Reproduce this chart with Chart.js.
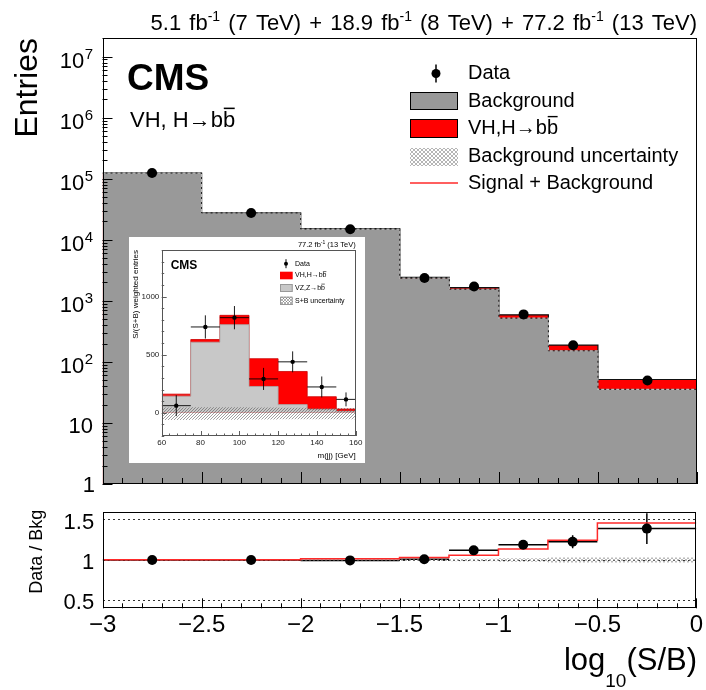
<!DOCTYPE html>
<html>
<head>
<meta charset="utf-8">
<title>VH, H→bb — log10(S/B)</title>
<script src="https://cdn.jsdelivr.net/npm/chart.js@4.4.1/dist/chart.umd.min.js"></script>
<style>
  html, body { margin: 0; padding: 0; background: #fff; }
  #page { position: relative; width: 706px; height: 690px; overflow: hidden; }
  #page canvas { position: absolute; }
  #mainChart { left: 0; top: 0; }
  #ratioChart { left: 0; top: 490px; }
  #insetChart { left: 129px; top: 237px; background: #fff; }
</style>
</head>
<body>
<div id="page">
  <canvas id="mainChart" width="706" height="498"></canvas>
  <canvas id="ratioChart" width="706" height="200"></canvas>
  <canvas id="insetChart" width="236" height="226"></canvas>
</div>
<script>
// CMS VH(bb) combination: events binned in log10(S/B), ratio below, m(jj) inset

const FONT = "'Liberation Sans', Arial, Helvetica, sans-serif";

// main panel: log10(S/B) bins
const binEdges = [-3, -2.5, -2, -1.5, -1.25, -1, -0.75, -0.5, 0];
const binCenters = [-2.75, -2.25, -1.75, -1.375, -1.125, -0.875, -0.625, -0.25];
const bkgEntries = [124000, 27500, 15000, 2350, 1550, 520, 152, 35.5];
const sigEntries = [250, 110, 220, 70, 95, 70, 37, 16];
const dataEntries = [124000, 27500, 14900, 2370, 1720, 600, 187, 49.5];
const logDecades = [0, 1, 2, 3, 4, 5, 6, 7];
const xTicks = [-3, -2.5, -2, -1.5, -1, -0.5, 0];

// ratio panel
const ratioData = [1.0, 1.0, 0.995, 1.01, 1.12, 1.19, 1.227, 1.39];
const ratioErr = [0.004, 0.007, 0.009, 0.02, 0.026, 0.045, 0.08, 0.19];
const ratioSplusB = [1.002, 1.004, 1.015, 1.03, 1.06, 1.136, 1.245, 1.46];
const ratioBkgUnc = [0.006, 0.006, 0.008, 0.012, 0.016, 0.022, 0.03, 0.032];
const ratioTicks = [0.5, 1, 1.5];

// inset: S/(S+B) weighted m(jj)
const mjjEdges = [60, 75, 90, 105, 120, 135, 150, 160];
const mjjCenters = [67.5, 82.5, 97.5, 112.5, 127.5, 142.5, 155];
const vzWeighted = [143, 607, 758, 226, 70, 30, 12];
const vhWeighted = [17, 23, 80, 239, 285, 108, 20];
const mjjData = [61, 738, 818, 291, 438, 222, 115];
const mjjDataErr = [90, 100, 100, 95, 90, 90, 60];
const mjjUncHi = [45, 48, 48, 45, 42, 40, 40];
const mjjUncLo = [-62, -60, -60, -58, -56, -55, -55];
const mjjTicksX = [60, 80, 100, 120, 140, 160];
const mjjTicksY = [0, 500, 1000];

const legendLabels = ['Data', 'Background', 'VH,H\u2192bb', 'Background uncertainty', 'Signal + Background'];
const insetLegendLabels = ['Data', 'VH,H\u2192bb', 'VZ,Z\u2192bb', 'S+B uncertainty'];

const colors = {
    bkg: '#999999',
    sig: '#ff0000',
    vz: '#c8c8c8',
    sbLine: '#ff2a2a'
};

function fnt(size, bold) {
    return (bold ? 'bold ' : '') + size + 'px ' + FONT;
}

// histogram as step points: one point per left edge plus the closing edge
function steps(edges, vals) {
    const pts = vals.map((v, i) => ({ x: edges[i], y: v }));
    pts.push({ x: edges[edges.length - 1], y: vals[vals.length - 1] });
    return pts;
}

function makeHatch(canvas, color, cross, step) {
    const t = document.createElement('canvas');
    t.width = step; t.height = step;
    const g = t.getContext('2d');
    g.strokeStyle = color;
    g.lineWidth = 1;
    g.beginPath();
    g.moveTo(0, step); g.lineTo(step, 0);
    if (cross) { g.moveTo(0, 0); g.lineTo(step, step); }
    g.stroke();
    return canvas.getContext('2d').createPattern(t, 'repeat');
}

// text whose last letter gets an overline (b-bar)
function barText(ctx, text, x, y, size) {
    ctx.fillText(text, x, y);
    const w = ctx.measureText(text).width;
    const wl = ctx.measureText(text.slice(-1)).width;
    const asc = ctx.measureText('b').actualBoundingBoxAscent;
    const yb = y - asc - size * 0.12;
    ctx.save();
    ctx.lineWidth = Math.max(0.6, size * 0.07);
    ctx.strokeStyle = ctx.fillStyle;
    ctx.beginPath();
    ctx.moveTo(x + w - wl + size * 0.04, yb);
    ctx.lineTo(x + w - size * 0.02, yb);
    ctx.stroke();
    ctx.restore();
}

// pieces: [text, size, dy]; drawn right-aligned at xRight, spaces widened by gap
function richText(ctx, pieces, xRight, baseY, gap) {
    gap = gap || 0;
    ctx.textAlign = 'left';
    ctx.textBaseline = 'alphabetic';
    const widthOf = p => {
        ctx.font = fnt(p[1]);
        return ctx.measureText(p[0]).width + gap * (p[0].split(' ').length - 1);
    };
    let xx = xRight - pieces.reduce((s, p) => s + widthOf(p), 0);
    pieces.forEach(p => {
        ctx.font = fnt(p[1]);
        const sp = ctx.measureText(' ').width + gap;
        p[0].split(' ').forEach((word, k) => {
            if (k > 0) xx += sp;
            ctx.fillText(word, xx, baseY + p[2]);
            xx += ctx.measureText(word).width;
        });
    });
}

Chart.defaults.font.family = FONT;
Chart.defaults.color = '#000';

// error bars read from dataset.errY / dataset.errEdges
const errorBars = {
    id: 'errorBars',
    draw(chart, under) {
        const { ctx, chartArea: a, scales: { x, y } } = chart;
        ctx.save();
        ctx.beginPath();
        ctx.rect(a.left, a.top, a.right - a.left, a.bottom - a.top);
        ctx.clip();
        chart.data.datasets.forEach(ds => {
            if (!ds.errY || !!ds.errUnder !== under) return;
            ctx.strokeStyle = '#000';
            ctx.lineWidth = ds.errWidth;
            ctx.beginPath();
            ds.data.forEach((p, i) => {
                const px = x.getPixelForValue(p.x);
                const py = y.getPixelForValue(p.y);
                ctx.moveTo(x.getPixelForValue(ds.errEdges[i]), py);
                ctx.lineTo(x.getPixelForValue(ds.errEdges[i + 1]), py);
                ctx.moveTo(px, y.getPixelForValue(p.y - ds.errY[i]));
                ctx.lineTo(px, y.getPixelForValue(p.y + ds.errY[i]));
            });
            ctx.stroke();
        });
        ctx.restore();
    },
    beforeDatasetsDraw(chart) { this.draw(chart, true); },
    afterDatasetsDraw(chart) { this.draw(chart, false); }
};

// ROOT style inward ticks along bottom of a linear x axis
function xTickMarks(ctx, x, a, from, to, minorStep, perMajor, majLen, minLen) {
    const n = Math.round((to - from) / minorStep);
    ctx.beginPath();
    for (let i = 0; i <= n; i++) {
        const px = Math.round(x.getPixelForValue(from + i * minorStep)) + 0.5;
        ctx.moveTo(px, a.bottom);
        ctx.lineTo(px, a.bottom - (i % perMajor === 0 ? majLen : minLen));
    }
    ctx.stroke();
}

function frame(ctx, a, color, width) {
    ctx.strokeStyle = color;
    ctx.lineWidth = width;
    const l = Math.round(a.left) + 0.5, t = Math.round(a.top) + 0.5;
    const r = Math.round(a.right) - 0.5, b = Math.round(a.bottom) - 0.5;
    ctx.strokeRect(l, t, r - l, b - t);
}

const mainCanvas = document.getElementById('mainChart');
const ratioCanvas = document.getElementById('ratioChart');
const insetCanvas = document.getElementById('insetChart');
const hatchLegend = makeHatch(mainCanvas, 'rgba(120,120,120,0.55)', true, 4);
const hatchRatio = makeHatch(ratioCanvas, 'rgba(140,140,140,0.6)', true, 4);
const hatchInset = makeHatch(insetCanvas, 'rgba(80,80,80,0.55)', false, 3);
const hatchInsetLeg = makeHatch(insetCanvas, 'rgba(80,80,80,0.45)', true, 3);

const mainDecor = {
    id: 'mainDecor',
    afterDraw(chart) {
        const { ctx, chartArea: a, scales: { x, y } } = chart;
        ctx.save();
        ctx.strokeStyle = '#000';
        ctx.lineWidth = 1;
        xTickMarks(ctx, x, a, -3, 0, 0.1, 5, 12, 6);
        ctx.beginPath();
        logDecades.forEach(d => {
            for (let m = 1; m <= 9; m++) {
                const v = m * Math.pow(10, d);
                if (v > y.max) break;
                const py = Math.round(y.getPixelForValue(v)) + 0.5;
                ctx.moveTo(a.left, py);
                ctx.lineTo(a.left + (m === 1 ? 10 : 5), py);
            }
        });
        ctx.stroke();
        frame(ctx, a, '#000', 1);

        // y tick labels 1, 10, 10^2 ... 10^7
        ctx.fillStyle = '#000';
        ctx.textBaseline = 'alphabetic';
        logDecades.forEach(d => {
            const py = y.getPixelForValue(Math.pow(10, d));
            ctx.font = fnt(22);
            ctx.textAlign = 'right';
            if (d === 0) { ctx.fillText('1', 95, py + 7.5); return; }
            if (d === 1) { ctx.fillText('10', 93, py + 10.5); return; }
            ctx.font = fnt(15);
            const sw = ctx.measureText(String(d)).width;
            ctx.textAlign = 'left';
            ctx.fillText(String(d), 93 - sw, py + 2);
            ctx.font = fnt(22);
            ctx.textAlign = 'right';
            ctx.fillText('10', 93 - sw - 0.5, py + 11);
        });

        // axis title
        ctx.save();
        ctx.translate(37, 38);
        ctx.rotate(-Math.PI / 2);
        ctx.font = fnt(32);
        ctx.textAlign = 'right';
        ctx.fillText('Entries', 0, 0);
        ctx.restore();

        // luminosity label
        richText(ctx, [
            ['5.1 fb', 22, 0], ['-1', 14, -9], [' (7 TeV) + 18.9 fb', 22, 0], ['-1', 14, -9],
            [' (8 TeV) + 77.2 fb', 22, 0], ['-1', 14, -9], [' (13 TeV)', 22, 0]
        ], 697, 30, 2);

        ctx.textAlign = 'left';
        ctx.font = fnt(37, true);
        ctx.fillText('CMS', 127, 90);
        ctx.font = fnt(22);
        barText(ctx, 'VH, H\u2192bb', 130, 127, 22);

        // legend
        const ly = [73.5, 101, 128.5, 156.5, 183];
        ctx.beginPath();
        ctx.arc(436, ly[0], 4.5, 0, 2 * Math.PI);
        ctx.fill();
        ctx.lineWidth = 1.5;
        ctx.beginPath();
        ctx.moveTo(436, ly[0] - 9);
        ctx.lineTo(436, ly[0] + 9);
        ctx.stroke();
        ctx.lineWidth = 1;
        ctx.fillStyle = colors.bkg;
        ctx.fillRect(410, 92, 48, 18);
        ctx.strokeRect(410.5, 92.5, 47, 17);
        ctx.fillStyle = colors.sig;
        ctx.fillRect(410, 119, 48, 19);
        ctx.strokeRect(410.5, 119.5, 47, 18);
        ctx.fillStyle = hatchLegend;
        ctx.fillRect(410, 148, 48, 18);
        ctx.strokeStyle = colors.sbLine;
        ctx.lineWidth = 1.5;
        ctx.beginPath();
        ctx.moveTo(410, ly[4]);
        ctx.lineTo(458, ly[4]);
        ctx.stroke();

        ctx.fillStyle = '#000';
        ctx.font = fnt(20);
        ctx.textBaseline = 'middle';
        legendLabels.forEach((t, i) => {
            if (i === 2) barText(ctx, t, 468, ly[i], 20);
            else ctx.fillText(t, 468, ly[i]);
        });
        ctx.restore();
    }
};

const ratioDecor = {
    id: 'ratioDecor',
    afterDraw(chart) {
        const { ctx, chartArea: a, scales: { x } } = chart;
        ctx.save();
        ctx.strokeStyle = '#000';
        ctx.lineWidth = 1;
        xTickMarks(ctx, x, a, -3, 0, 0.1, 5, 10, 5);
        frame(ctx, a, '#000', 1);

        ctx.fillStyle = '#000';
        richText(ctx, [['log', 31, 0], ['10', 19, 16.5], ['(S/B)', 31, 0]], 697, 180);

        ctx.translate(42, 61.7);
        ctx.rotate(-Math.PI / 2);
        ctx.font = fnt(18);
        ctx.textAlign = 'center';
        ctx.textBaseline = 'alphabetic';
        ctx.fillText('Data / Bkg', 0, 0);
        ctx.restore();
    }
};

const insetDecor = {
    id: 'insetDecor',
    afterDraw(chart) {
        const { ctx, chartArea: a, scales: { x, y } } = chart;
        ctx.save();
        ctx.strokeStyle = '#333';
        ctx.lineWidth = 0.8;
        xTickMarks(ctx, x, a, 60, 160, 4, 5, 5, 2.5);
        ctx.beginPath();
        for (let v = -200; v <= 1400; v += 100) {
            const py = Math.round(y.getPixelForValue(v)) + 0.5;
            ctx.moveTo(a.left, py);
            ctx.lineTo(a.left + (v % 500 === 0 ? 5 : 2.5), py);
        }
        ctx.stroke();
        frame(ctx, a, '#555', 1);

        ctx.fillStyle = '#000';
        richText(ctx, [['77.2 fb', 7.5, 0], ['-1', 5, -3], [' (13 TeV)', 7.5, 0]], 226.7, 9.7);
        ctx.font = fnt(12, true);
        ctx.fillText('CMS', 41.7, 32);

        ctx.save();
        ctx.translate(9, 13);
        ctx.rotate(-Math.PI / 2);
        ctx.font = fnt(8);
        ctx.textAlign = 'right';
        ctx.fillText('S/(S+B) weighted entries', 0, 0);
        ctx.restore();

        ctx.font = fnt(8);
        ctx.textAlign = 'right';
        ctx.fillText('m(jj) [GeV]', 226.7, 220.7);

        // legend
        const ly = [26.7, 38.5, 51, 63.8];
        ctx.beginPath();
        ctx.arc(157, ly[0], 2, 0, 2 * Math.PI);
        ctx.fill();
        ctx.lineWidth = 1;
        ctx.strokeStyle = '#000';
        ctx.beginPath();
        ctx.moveTo(157, ly[0] - 4.5);
        ctx.lineTo(157, ly[0] + 4.5);
        ctx.stroke();
        ctx.fillStyle = colors.sig;
        ctx.fillRect(151, 34.7, 12.7, 7.6);
        ctx.fillStyle = colors.vz;
        ctx.fillRect(151, 47, 12.7, 8);
        ctx.strokeStyle = '#999';
        ctx.strokeRect(151.5, 47.5, 11.7, 7);
        ctx.fillStyle = hatchInsetLeg;
        ctx.fillRect(151, 59.7, 12.7, 8.3);
        ctx.strokeRect(151.5, 60.2, 11.7, 7.3);

        ctx.fillStyle = '#000';
        ctx.font = fnt(7);
        ctx.textAlign = 'left';
        ctx.textBaseline = 'middle';
        insetLegendLabels.forEach((t, i) => {
            if (i === 1 || i === 2) barText(ctx, t, 166, ly[i], 7);
            else ctx.fillText(t, 166, ly[i]);
        });
        ctx.restore();
    }
};

const noUi = { legend: { display: false }, tooltip: { enabled: false } };

// main panel
new Chart(mainCanvas, {
    type: 'line',
    data: {
        datasets: [
            {
                label: 'Data',
                data: binCenters.map((c, i) => ({ x: c, y: dataEntries[i] })),
                showLine: false,
                pointRadius: 5,
                pointBackgroundColor: '#000',
                pointBorderWidth: 0,
                stack: 'data',
                order: 0
            },
            {
                label: 'Background uncertainty',
                data: steps(binEdges, bkgEntries),
                stepped: true,
                pointRadius: 0,
                borderColor: 'rgba(235,235,235,0.75)',
                borderWidth: 1.2,
                borderDash: [3, 2],
                fill: false,
                stack: 'unc',
                order: 1
            },
            {
                label: 'Background',
                data: steps(binEdges, bkgEntries),
                stepped: true,
                pointRadius: 0,
                borderColor: '#222',
                borderWidth: 1,
                backgroundColor: colors.bkg,
                fill: 'start',
                stack: 'mc',
                order: 2
            },
            {
                label: 'VH,H\u2192bb',
                data: steps(binEdges, sigEntries),
                stepped: true,
                pointRadius: 0,
                borderColor: '#111',
                borderWidth: 1.2,
                backgroundColor: colors.sig,
                fill: 'start',
                stack: 'mc',
                order: 3
            }
        ]
    },
    options: {
        responsive: false,
        animation: false,
        devicePixelRatio: 1,
        layout: { padding: { left: 102.5, right: 9, top: 38.3, bottom: 14 } },
        plugins: noUi,
        scales: {
            x: { type: 'linear', min: -3, max: 0, display: false },
            y: { type: 'logarithmic', min: 1, max: 2e7, display: false, stacked: true }
        }
    },
    plugins: [errorBars, mainDecor]
});

// ratio panel
new Chart(ratioCanvas, {
    type: 'line',
    data: {
        datasets: [
            {
                label: 'Data / Bkg',
                data: binCenters.map((c, i) => ({ x: c, y: ratioData[i] })),
                showLine: false,
                pointRadius: 5,
                pointBackgroundColor: '#000',
                pointBorderWidth: 0,
                errY: ratioErr,
                errEdges: binEdges,
                errWidth: 1.5,
                errUnder: true,
                order: 0
            },
            {
                label: 'Signal + Background',
                data: steps(binEdges, ratioSplusB),
                stepped: true,
                pointRadius: 0,
                borderColor: colors.sbLine,
                borderWidth: 1.5,
                fill: false,
                order: 1
            },
            {
                label: 'unc hi',
                data: steps(binEdges, ratioBkgUnc.map(u => 1 + u)),
                stepped: true,
                pointRadius: 0,
                borderWidth: 0,
                borderColor: 'rgba(0,0,0,0)',
                backgroundColor: hatchRatio,
                fill: '+1',
                order: 2
            },
            {
                label: 'unc lo',
                data: steps(binEdges, ratioBkgUnc.map(u => 1 - u)),
                stepped: true,
                pointRadius: 0,
                borderWidth: 0,
                borderColor: 'rgba(0,0,0,0)',
                fill: false,
                order: 3
            }
        ]
    },
    options: {
        responsive: false,
        animation: false,
        devicePixelRatio: 1,
        layout: { padding: { left: 0, right: 9.3, top: 7.3, bottom: 0 } },
        plugins: noUi,
        scales: {
            x: {
                type: 'linear', min: -3, max: 0,
                afterBuildTicks: s => { s.ticks = xTicks.map(v => ({ value: v })); },
                afterFit: s => { s.height = 81.7; },
                grid: { display: false, drawTicks: false },
                border: { display: false },
                ticks: {
                    padding: 3,
                    font: { size: 24 },
                    color: '#000',
                    maxRotation: 0,
                    autoSkip: false,
                    callback: v => String(v).replace('-', '\u2212')
                }
            },
            y: {
                type: 'linear', min: 0.4, max: 1.6,
                afterBuildTicks: s => { s.ticks = ratioTicks.map(v => ({ value: v })); },
                afterFit: s => { s.width = 102.7; },
                grid: { color: '#333', lineWidth: 1, drawTicks: false },
                border: { display: false, dash: [2, 3] },
                ticks: { padding: 8.5, labelOffset: 3, font: { size: 22 }, color: '#000', callback: v => String(v) }
            }
        }
    },
    plugins: [errorBars, ratioDecor]
});

// inset: weighted m(jj)
new Chart(insetCanvas, {
    type: 'line',
    data: {
        datasets: [
            {
                label: 'Data',
                data: mjjCenters.map((c, i) => ({ x: c, y: mjjData[i] })),
                showLine: false,
                pointRadius: 2.2,
                pointBackgroundColor: '#000',
                pointBorderWidth: 0,
                errY: mjjDataErr,
                errEdges: mjjEdges,
                errWidth: 0.9,
                stack: 'data',
                order: 0
            },
            {
                label: 'S+B uncertainty',
                data: steps(mjjEdges, mjjUncHi),
                stepped: true,
                pointRadius: 0,
                borderWidth: 0,
                borderColor: 'rgba(0,0,0,0)',
                backgroundColor: hatchInset,
                fill: '+1',
                stack: 'u1',
                order: 1
            },
            {
                label: 'unc lo',
                data: steps(mjjEdges, mjjUncLo),
                stepped: true,
                pointRadius: 0,
                borderWidth: 0,
                borderColor: 'rgba(0,0,0,0)',
                fill: false,
                stack: 'u2',
                order: 2
            },
            {
                label: 'VZ,Z\u2192bb',
                data: steps(mjjEdges, vzWeighted),
                stepped: true,
                pointRadius: 0,
                borderColor: '#a8a8a8',
                borderWidth: 0.8,
                backgroundColor: colors.vz,
                fill: 'origin',
                stack: 'mc',
                order: 3
            },
            {
                label: 'VH,H\u2192bb',
                data: steps(mjjEdges, vhWeighted),
                stepped: true,
                pointRadius: 0,
                borderColor: '#cc0000',
                borderWidth: 0.8,
                backgroundColor: colors.sig,
                fill: 'origin',
                stack: 'mc',
                order: 4
            }
        ]
    },
    options: {
        responsive: false,
        animation: false,
        devicePixelRatio: 1,
        layout: { padding: { left: 0, right: 9.3, top: 13, bottom: 0 } },
        plugins: noUi,
        scales: {
            x: {
                type: 'linear', min: 60, max: 160,
                afterBuildTicks: s => { s.ticks = mjjTicksX.map(v => ({ value: v })); },
                afterFit: s => { s.height = 27; },
                grid: { display: false, drawTicks: false },
                border: { display: false },
                ticks: { padding: 2, font: { size: 8 }, color: '#222', maxRotation: 0, autoSkip: false, callback: v => String(v) }
            },
            y: {
                type: 'linear', min: -200, max: 1400, stacked: true,
                afterBuildTicks: s => { s.ticks = mjjTicksY.map(v => ({ value: v })); },
                afterFit: s => { s.width = 32.7; },
                grid: { display: false, drawTicks: false },
                border: { display: false },
                ticks: { padding: 2.4, font: { size: 8 }, color: '#222', callback: v => String(v) }
            }
        }
    },
    plugins: [errorBars, insetDecor]
});
</script>
</body>
</html>
